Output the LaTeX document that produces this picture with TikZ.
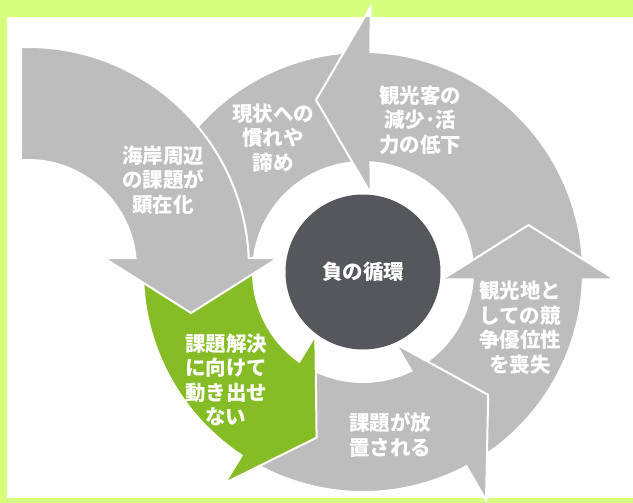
\documentclass[tikz,border=0pt]{standalone}
\usepackage{fontspec}
\setmainfont{Noto Sans CJK JP}
\definecolor{bordergreen}{RGB}{214,255,128}
\definecolor{arrowgray}{RGB}{188,189,188}
\definecolor{darkcirc}{RGB}{84,87,92}
\definecolor{leafgreen}{RGB}{134,188,37}
% #1 head angle, #2 tail angle (relative), #3 outer extent of head base, #4 style
\newcommand{\RingArrow}[4]{%
  \begin{scope}[shift={(363,-272)},rotate=#1]
    \path[#4] (#2:220) arc[start angle=#2,end angle=-1.9535,radius=220]
      -- (#3,-7.5) -- ({(79+#3)/2},47) -- (79,-7.5) -- (-3.909:110)
      arc[start angle=-3.909,end angle=#2,radius=110] -- cycle;
  \end{scope}}
\begin{document}
\begin{tikzpicture}[x=1pt,y=1pt,
  shp/.style={line width=2pt,draw=white,fill=arrowgray,line join=miter},
  sil/.style={line width=2pt,draw=white,fill=white,line join=miter},
  lbl/.style={text=white,font=\fontsize{20.5}{24.5}\selectfont\bfseries,align=center,inner sep=0pt},
  core/.style={circle,fill=darkcirc,minimum size=155pt,inner sep=0pt,text=white,font=\fontsize{20.5}{24.5}\selectfont\bfseries}]
\useasboundingbox (0,0) rectangle (633,-503);
\fill[white] (0,0) rectangle (633,-503);
% band: 現状への慣れや諦め
\begin{scope}[shift={(363,-272)}]
  \path[shp] (85:220) arc[start angle=85,end angle=180,radius=220]
    -- (180:110) arc[start angle=180,end angle=85,radius=110] -- cycle;
\end{scope}
% ring arrows (drawn in stacking order)
\RingArrow{90}{-100}{265}{shp}
\RingArrow{0}{-70}{252}{shp}
\RingArrow{-60}{-70}{259}{shp}
\RingArrow{-121.5}{-58.5}{252}{shp,fill=leafgreen}
% arrow from the top left: 海岸周辺の課題が顕在化
\begin{scope}[shift={(28,-268)}]
  \path[shp] (91.8:221) arc[start angle=91.8,end angle=2.594,radius=221]
    -- (250,10) -- (163,-45) -- (76,10) -- (5.313:108)
    arc[start angle=5.313,end angle=93.72,radius=108] -- cycle;
\end{scope}
% centre
\node[core] (core) at (363,-272) {負の循環};
% labels
\node[lbl] (t1) at (163,-180) {海岸周辺\\の課題が\\顕在化};
\node[lbl] (t2) at (273,-138) {現状への\\慣れや\\諦め};
\node[lbl] (t3) at (420,-120) {観光客の\\減少･活\\力の低下};
\node[lbl] (t5) at (520,-327.5) {観光地と\\しての競\\争優位性\\を喪失};
\node[lbl] (t6) at (390,-435) {課題が放\\置される};
\node[lbl] (t7) at (226,-380) {課題解決\\に向けて\\動き出せ\\ない};
% green frame
\fill[bordergreen,even odd rule] (0,0) rectangle (633,-503) (7,-17) rectangle (633,-498);
\begin{scope}
  \clip (0,0) rectangle (633,-17);
  \RingArrow{90}{-100}{265}{sil}
\end{scope}
\begin{scope}
  \clip (0,-498) rectangle (633,-503);
  \RingArrow{-60}{-70}{259}{sil}
\end{scope}
\end{tikzpicture}
\end{document}
